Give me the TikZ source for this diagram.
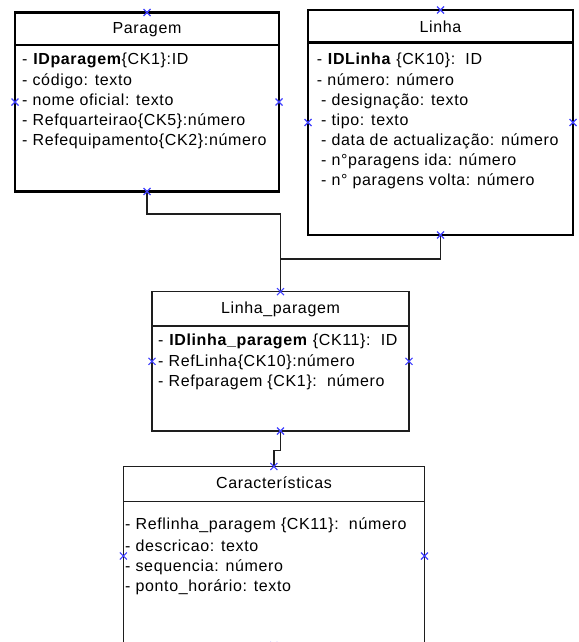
\documentclass[tikz,border=0pt]{standalone}
\usepackage{fontspec}
\setmainfont[LetterSpace=4]{Liberation Sans}
\usetikzlibrary{shapes.misc}
\definecolor{mk}{RGB}{64,64,255}
\definecolor{ln}{RGB}{30,30,30}
\begin{document}
\begin{tikzpicture}[x=1pt,y=-1pt,
  thickbox/.style={draw=black,line width=2.8pt,outer sep=0pt,inner sep=0pt,anchor=north west},
  thinbox/.style={draw=ln,line width=1.3pt,outer sep=0pt,inner sep=0pt,anchor=north west},
  txt/.style={anchor=base west,inner sep=0pt,font=\fontsize{16}{19}\selectfont},
  ttl/.style={anchor=base,inner sep=0pt,font=\fontsize{16}{19}\selectfont},
  conn/.style={draw=ln,line width=1.4pt},
  xm/.style={cross out,draw=mk,line width=1.1pt,minimum size=7pt,inner sep=0pt,outer sep=0pt}]
\useasboundingbox (0,0) rectangle (578,642);
\begin{scope}
\clip (0,0) rectangle (578,642);
% boxes
\node[thickbox,minimum width=264pt,minimum height=179pt] (paragem) at (15,12.5) {};
\node[thickbox,minimum width=265pt,minimum height=225pt] (linha) at (308,10) {};
\node[thinbox,minimum width=257pt,minimum height=139.3pt] (lp) at (152,291.7) {};
\node[thinbox,minimum width=301.2pt,minimum height=179pt] (ch) at (123.3,466.5) {};
% header separators
\draw[line width=2.8pt] (paragem.west |- 0,45) -- (paragem.east |- 0,45);
\draw[line width=2.8pt] (linha.west |- 0,42.5) -- (linha.east |- 0,42.5);
\draw[draw=ln,line width=1.3pt] (lp.west |- 0,326) -- (lp.east |- 0,326);
\draw[draw=ln,line width=1.3pt] (ch.west |- 0,501.7) -- (ch.east |- 0,501.7);
% titles
\node[ttl] (tparagem) at (147,34) {Paragem};
\node[ttl] (tlinha) at (440.5,32.5) {Linha};
\node[ttl] (tlp) at (280.5,313) {Linha\_paragem};
\node[ttl] (tch) at (274,488) {Características};
% Paragem attributes
\node[txt] (p1) at (22,65) {- \textbf{IDparagem}\{CK1\}:ID};
\node[txt] (p2) at (22,85) {- código: texto};
\node[txt] (p3) at (22,105) {- nome oficial: texto};
\node[txt] (p4) at (22,125) {- Refquarteirao\{CK5\}:número};
\node[txt] (p5) at (22,145) {- Refequipamento\{CK2\}:número};
% Linha attributes
\node[txt] (l1) at (316.7,65) {- \textbf{IDLinha} \{CK10\}:\ \ ID};
\node[txt] (l2) at (316.7,85) {- número: número};
\node[txt] (l3) at (321,105) {- designação: texto};
\node[txt] (l4) at (321,125) {- tipo: texto};
\node[txt] (l5) at (321,145) {- data de actualização: número};
\node[txt] (l6) at (321,165) {- n°paragens ida: número};
\node[txt] (l7) at (321,185) {- n° paragens volta: número};
% Linha_paragem attributes
\node[txt] (lp1) at (158,345) {- \textbf{IDlinha\_paragem} \{CK11\}:\ \ ID};
\node[txt] (lp2) at (158,366) {- RefLinha\{CK10\}:número};
\node[txt] (lp3) at (158,386) {- Refparagem \{CK1\}:\ \ número};
% Caracteristicas attributes
\node[txt] (c1) at (125,529) {- Reflinha\_paragem \{CK11\}:\ \ número};
\node[txt] (c2) at (125,551) {- descricao: texto};
\node[txt] (c3) at (125,571) {- sequencia: número};
\node[txt] (c4) at (125,591.5) {- ponto\_horário: texto};
% connectors
\draw[conn] (paragem.south) -- ++(0,22.5) -| (lp.north);
\draw[conn] (linha.south) -- ++(0,24) -| (lp.north);
\draw[conn] (lp.south) -- ++(0,19.5) -| (ch.north);
% markers
\node[xm] (mpn) at (paragem.north) {};
\node[xm] (mps) at (paragem.south) {};
\node[xm] (mpw) at (paragem.west) {};
\node[xm] (mpe) at (paragem.east) {};
\node[xm] (mln) at (linha.north) {};
\node[xm] (mls) at (linha.south) {};
\node[xm] (mlw) at (linha.west) {};
\node[xm] (mle) at (linha.east) {};
\node[xm] (mlpn) at (lp.north) {};
\node[xm] (mlps) at (lp.south) {};
\node[xm] (mlpw) at (lp.west) {};
\node[xm] (mlpe) at (lp.east) {};
\node[xm] (mcn) at (ch.north) {};
\node[xm] (mcs) at (ch.south) {};
\node[xm] (mcw) at (ch.west) {};
\node[xm] (mce) at (ch.east) {};
\end{scope}
\end{tikzpicture}
\end{document}
